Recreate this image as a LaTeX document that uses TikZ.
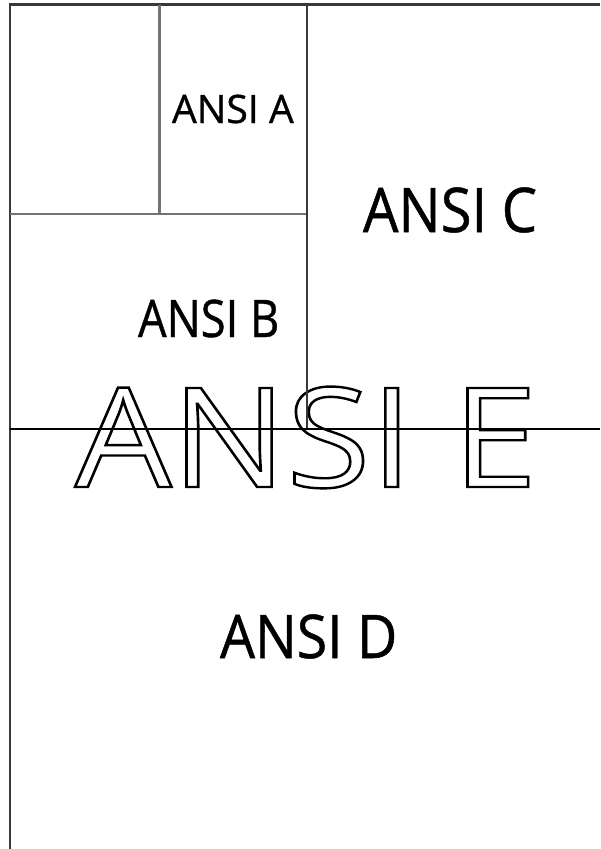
\documentclass[tikz,border=0pt]{standalone}
\usepackage{fontspec}
\setmainfont{Open Sans}
\newfontfamily\lblfont[FakeBold=0.8]{Open Sans}
\usepackage{graphicx}
\newcommand{\outlinetext}[1]{\special{pdf:literal direct 1 Tr 2.4 w}#1\special{pdf:literal direct 0 Tr}}
\begin{document}
\begin{tikzpicture}[x=1pt,y=-1pt,
  lbl/.style={anchor=base west,inner sep=0pt,outer sep=0pt,text=black},
  frameline/.style={draw=black!78,line width=2.2pt},
  lightline/.style={draw=black!55,line width=2.2pt},
  midline/.style={draw=black!78,line width=2pt},
  thinline/.style={draw=black,line width=1.4pt}]
\useasboundingbox (0,0) rectangle (600,849);
\fill[white] (0,0) rectangle (600,849);
% texts
\node[lbl] (a) at (172,123) {\lblfont\fontsize{39.2}{40}\selectfont ANSI A};
\node[lbl] (b) at (138,337) {\scalebox{0.874}[1]{\lblfont\fontsize{51.8}{52}\selectfont ANSI B}};
\node[lbl] (c) at (363,232) {\scalebox{0.91}[1]{\lblfont\fontsize{61.6}{62}\selectfont ANSI C}};
\node[lbl] (d) at (220,658) {\scalebox{0.92}[1]{\lblfont\fontsize{60.2}{61}\selectfont ANSI D}};
\node[lbl] (e) at (75,487) {\scalebox{1.10}[1]{\fontsize{138.7}{139}\selectfont\outlinetext{ANSI E}}};
% lines
\draw[frameline] (10,4.5) -- (600,4.5);
\draw[frameline] (10,3.4) -- (10,849);
\draw[lightline] (159.5,4.5) -- (159.5,214);
\draw[lightline] (10,214) -- (307,214);
\draw[midline] (307,4.5) -- (307,429);
\draw[thinline] (10,429) -- (600,429);
\end{tikzpicture}
\end{document}
